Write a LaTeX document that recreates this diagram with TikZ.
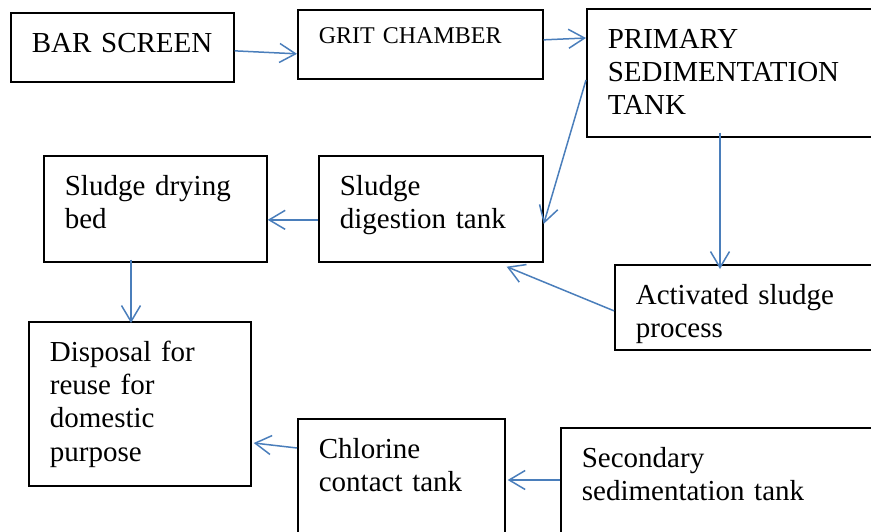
\documentclass[tikz,border=0pt]{standalone}
\usepackage{fontspec}
\setmainfont{Liberation Serif}
\usetikzlibrary{arrows.meta}
\definecolor{flowblue}{HTML}{4A7EBB}

\begin{document}
\begin{tikzpicture}[x=1pt, y=-1pt,
  box/.style={draw, line width=1.7pt, anchor=north west, align=left,
    inner xsep=21pt, inner ysep=0pt, text height=39.2pt,
    font=\fontsize{29}{33.4}\selectfont},
  flow/.style={draw=flowblue, line width=1.5pt,
    -{Straight Barb[length=16pt, width=19pt]}}]
 \useasboundingbox (0,0) rectangle (871,532);
 \clip (0,0) rectangle (871,532);

 \draw (10, 12) node[box, text width=181pt, text depth=29.8pt] (bar) {BAR SCREEN};
 \draw (297, 9) node[box, text width=203pt, text height=34pt, text depth=35pt,
   font=\fontsize{24}{27.6}\selectfont] (grit) {GRIT CHAMBER};
 \draw (586, 8) node[box, text width=258pt, text depth=88.8pt] (prim) {PRIMARY\\SEDIMENTATION\\TANK};
 \draw (43, 155) node[box, text width=181pt, text depth=66.8pt] (dry) {Sludge drying\\bed};
 \draw (318, 155) node[box, text width=182pt, text depth=66.8pt] (dig) {Sludge\\digestion tank};
 \draw (614, 264) node[box, text width=238pt, text depth=45.8pt] (act) {Activated sludge\\process};
 \draw (28, 321) node[box, text width=180pt, text depth=124.8pt] (disp) {Disposal for\\reuse for\\domestic\\purpose};
 \draw (297, 418) node[box, text width=165pt, text depth=90.8pt] (chlor) {Chlorine\\contact tank};
 \draw (560, 427) node[box, text width=288pt, text depth=80.8pt] (sec) {Secondary\\sedimentation tank};

 \draw[flow] ([yshift=-3.5pt]bar.east) -- ([yshift=-9.5pt]grit.west);
 \draw[flow] ([yshift=4.5pt]grit.east) -- ([yshift=-30pt]prim.north west);
 \draw[flow] ([yshift=-72pt]prim.north west) -- ([yshift=-15pt]dig.east);
 \draw[flow] ([xshift=134pt, yshift=5pt]prim.south west) -- ([xshift=106pt, yshift=-5pt]act.north west);
 \draw[flow] ([yshift=-3.5pt]act.west) -- ([xshift=-37pt, yshift=-4pt]dig.south east);
 \draw[flow] ([yshift=-11pt]dig.west) -- ([yshift=-11pt]dry.east);
 \draw[flow] ([xshift=88pt, yshift=3pt]dry.south west) -- ([xshift=103pt, yshift=-2pt]disp.north west);
 \draw[flow] ([yshift=-30pt]chlor.north west) -- ([xshift=2pt, yshift=-122pt]disp.north east);
 \draw[flow] ([yshift=-53pt]sec.north west) -- ([xshift=2pt, yshift=-62pt]chlor.north east);
\end{tikzpicture}
\end{document}
